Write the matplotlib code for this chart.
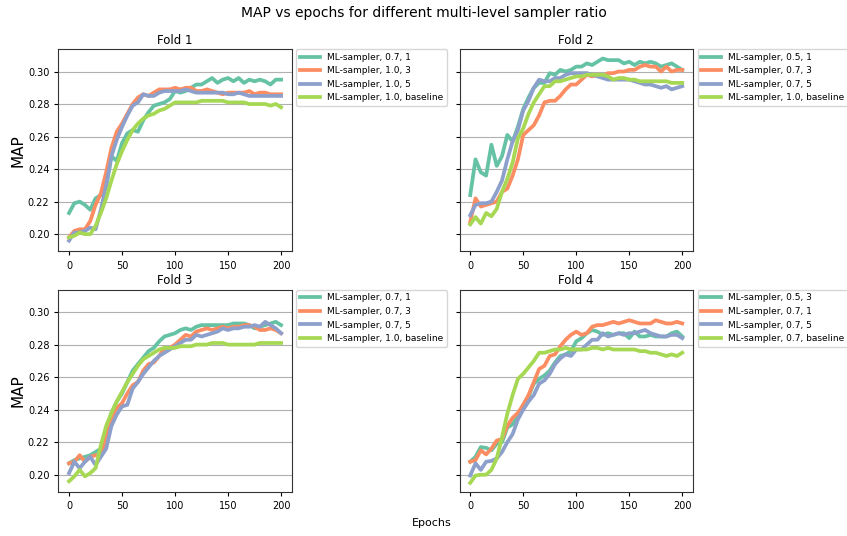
import numpy as np
import matplotlib
matplotlib.use("Agg")
import matplotlib.pyplot as plt

epochs = np.arange(0, 201, 5)

fold1_labels = ["ML-sampler, 0.7, 1", "ML-sampler, 1.0, 3", "ML-sampler, 1.0, 5", "ML-sampler, 1.0, baseline"]
fold1_a = [0.213, 0.219, 0.220, 0.218, 0.215, 0.222, 0.224, 0.229, 0.248, 0.245, 0.256, 0.262, 0.264, 0.263, 0.270,
           0.275, 0.279, 0.280, 0.281, 0.283, 0.288, 0.287, 0.288, 0.290, 0.292, 0.292, 0.294, 0.296, 0.293, 0.295,
           0.296, 0.294, 0.296, 0.293, 0.295, 0.294, 0.295, 0.294, 0.292, 0.295, 0.295]
fold1_b = [0.198, 0.202, 0.203, 0.203, 0.208, 0.218, 0.225, 0.238, 0.253, 0.263, 0.268, 0.274, 0.280, 0.284, 0.286,
           0.285, 0.287, 0.289, 0.289, 0.289, 0.290, 0.289, 0.290, 0.290, 0.288, 0.288, 0.289, 0.288, 0.287, 0.286,
           0.287, 0.287, 0.287, 0.287, 0.288, 0.286, 0.287, 0.287, 0.286, 0.286, 0.286]
fold1_c = [0.196, 0.201, 0.201, 0.202, 0.204, 0.203, 0.215, 0.230, 0.248, 0.258, 0.266, 0.273, 0.279, 0.281, 0.286,
           0.285, 0.285, 0.287, 0.288, 0.288, 0.288, 0.288, 0.289, 0.288, 0.287, 0.287, 0.287, 0.287, 0.287, 0.287,
           0.286, 0.286, 0.287, 0.286, 0.285, 0.285, 0.285, 0.285, 0.285, 0.285, 0.285]
fold1_d = [0.198, 0.199, 0.201, 0.200, 0.200, 0.205, 0.213, 0.222, 0.233, 0.243, 0.251, 0.258, 0.264, 0.268, 0.271,
           0.273, 0.274, 0.276, 0.277, 0.279, 0.281, 0.281, 0.281, 0.281, 0.281, 0.282, 0.282, 0.282, 0.282, 0.282,
           0.281, 0.281, 0.281, 0.281, 0.280, 0.280, 0.280, 0.280, 0.279, 0.280, 0.278]

fold2_labels = ["ML-sampler, 0.5, 1", "ML-sampler, 0.7, 3", "ML-sampler, 0.7, 5", "ML-sampler, 1.0, baseline"]
fold2_a = [0.224, 0.246, 0.238, 0.236, 0.255, 0.242, 0.248, 0.261, 0.257, 0.266, 0.277, 0.284, 0.290, 0.293, 0.293,
           0.299, 0.298, 0.301, 0.300, 0.301, 0.303, 0.303, 0.305, 0.304, 0.306, 0.308, 0.307, 0.307, 0.307, 0.305,
           0.306, 0.304, 0.306, 0.305, 0.306, 0.305, 0.303, 0.304, 0.305, 0.303, 0.301]
fold2_b = [0.2075, 0.222, 0.217, 0.218, 0.219, 0.220, 0.226, 0.228, 0.236, 0.246, 0.261, 0.264, 0.267, 0.273, 0.281,
           0.282, 0.282, 0.285, 0.289, 0.292, 0.292, 0.295, 0.298, 0.297, 0.298, 0.297, 0.299, 0.299, 0.300, 0.300,
           0.301, 0.301, 0.303, 0.304, 0.303, 0.303, 0.300, 0.303, 0.300, 0.301, 0.301]
fold2_c = [0.2116, 0.218, 0.219, 0.219, 0.220, 0.226, 0.233, 0.246, 0.257, 0.264, 0.276, 0.282, 0.290, 0.295, 0.294,
           0.294, 0.296, 0.296, 0.298, 0.299, 0.299, 0.299, 0.299, 0.298, 0.297, 0.296, 0.295, 0.295, 0.295, 0.295,
           0.295, 0.294, 0.293, 0.292, 0.292, 0.291, 0.290, 0.291, 0.289, 0.290, 0.291]
fold2_d = [0.206, 0.2105, 0.2065, 0.213, 0.211, 0.2155, 0.226, 0.234, 0.244, 0.259, 0.265, 0.274, 0.281, 0.286, 0.291,
           0.291, 0.294, 0.294, 0.295, 0.296, 0.297, 0.297, 0.298, 0.298, 0.298, 0.298, 0.297, 0.295, 0.296, 0.296,
           0.295, 0.295, 0.294, 0.294, 0.294, 0.294, 0.294, 0.294, 0.293, 0.293, 0.293]

fold3_labels = ["ML-sampler, 0.7, 1", "ML-sampler, 0.7, 3", "ML-sampler, 0.7, 5", "ML-sampler, 1.0, baseline"]
fold3_a = [0.207, 0.209, 0.210, 0.211, 0.212, 0.214, 0.216, 0.228, 0.238, 0.245, 0.250, 0.257, 0.264, 0.268, 0.272,
           0.276, 0.278, 0.282, 0.285, 0.286, 0.287, 0.289, 0.290, 0.289, 0.291, 0.292, 0.292, 0.292, 0.292, 0.292,
           0.292, 0.293, 0.293, 0.293, 0.292, 0.290, 0.291, 0.292, 0.293, 0.294, 0.292]
fold3_b = [0.207, 0.208, 0.212, 0.208, 0.211, 0.212, 0.212, 0.222, 0.234, 0.241, 0.244, 0.250, 0.255, 0.257, 0.264,
           0.268, 0.269, 0.273, 0.278, 0.278, 0.280, 0.283, 0.286, 0.285, 0.288, 0.289, 0.290, 0.289, 0.290, 0.291,
           0.290, 0.291, 0.291, 0.292, 0.292, 0.291, 0.289, 0.289, 0.290, 0.289, 0.287]
fold3_c = [0.201, 0.208, 0.204, 0.208, 0.211, 0.206, 0.211, 0.216, 0.230, 0.237, 0.242, 0.243, 0.253, 0.257, 0.262,
           0.266, 0.270, 0.273, 0.275, 0.277, 0.279, 0.281, 0.283, 0.283, 0.286, 0.285, 0.286, 0.287, 0.288, 0.290,
           0.289, 0.290, 0.290, 0.291, 0.291, 0.292, 0.291, 0.294, 0.292, 0.290, 0.287]
fold3_d = [0.196, 0.199, 0.203, 0.199, 0.201, 0.204, 0.218, 0.230, 0.238, 0.245, 0.251, 0.257, 0.262, 0.267, 0.271,
           0.273, 0.275, 0.277, 0.278, 0.278, 0.278, 0.279, 0.279, 0.279, 0.280, 0.280, 0.280, 0.281, 0.281, 0.281,
           0.280, 0.280, 0.280, 0.280, 0.280, 0.280, 0.281, 0.281, 0.281, 0.281, 0.281]

fold4_labels = ["ML-sampler, 0.5, 3", "ML-sampler, 0.7, 1", "ML-sampler, 0.7, 5", "ML-sampler, 0.7, baseline"]
fold4_a = [0.208, 0.211, 0.217, 0.2165, 0.215, 0.219, 0.220, 0.229, 0.231, 0.236, 0.243, 0.248, 0.256, 0.259, 0.261,
           0.264, 0.269, 0.273, 0.274, 0.276, 0.282, 0.284, 0.287, 0.289, 0.288, 0.286, 0.287, 0.286, 0.287, 0.287,
           0.284, 0.288, 0.285, 0.285, 0.286, 0.285, 0.285, 0.285, 0.287, 0.288, 0.285]
fold4_b = [0.208, 0.209, 0.215, 0.2125, 0.216, 0.221, 0.222, 0.230, 0.235, 0.238, 0.243, 0.249, 0.257, 0.265, 0.267,
           0.273, 0.274, 0.279, 0.283, 0.286, 0.288, 0.286, 0.287, 0.291, 0.292, 0.292, 0.293, 0.294, 0.293, 0.294,
           0.295, 0.294, 0.293, 0.293, 0.293, 0.295, 0.294, 0.293, 0.293, 0.294, 0.293]
fold4_c = [0.1995, 0.207, 0.203, 0.208, 0.2085, 0.210, 0.214, 0.220, 0.225, 0.234, 0.240, 0.245, 0.249, 0.256, 0.258,
           0.262, 0.268, 0.2715, 0.274, 0.273, 0.277, 0.277, 0.280, 0.283, 0.283, 0.287, 0.285, 0.286, 0.287, 0.286,
           0.287, 0.287, 0.288, 0.289, 0.287, 0.286, 0.285, 0.285, 0.286, 0.286, 0.284]
fold4_d = [0.195, 0.1995, 0.200, 0.200, 0.203, 0.210, 0.223, 0.2375, 0.249, 0.259, 0.262, 0.266, 0.270, 0.275, 0.275,
           0.276, 0.277, 0.277, 0.278, 0.277, 0.277, 0.277, 0.277, 0.278, 0.278, 0.277, 0.278, 0.277, 0.277, 0.277,
           0.277, 0.277, 0.276, 0.276, 0.275, 0.275, 0.274, 0.273, 0.274, 0.273, 0.275]

folds = [
    ("Fold 1", fold1_labels, [fold1_a, fold1_b, fold1_c, fold1_d]),
    ("Fold 2", fold2_labels, [fold2_a, fold2_b, fold2_c, fold2_d]),
    ("Fold 3", fold3_labels, [fold3_a, fold3_b, fold3_c, fold3_d]),
    ("Fold 4", fold4_labels, [fold4_a, fold4_b, fold4_c, fold4_d]),
]

colors = ["#66c2a5", "#fc8d62", "#8da0cb", "#a6d854"]

fig, axes = plt.subplots(2, 2, figsize=(8.47, 5.36), dpi=100, sharey=True)
fig.subplots_adjust(left=0.069, right=0.818, top=0.908, bottom=0.082, wspace=0.72, hspace=0.19)

for ax, (title, labels, series) in zip(axes.flat, folds):
    for vals, lab, col in zip(series, labels, colors):
        ax.plot(epochs, vals, color=col, lw=2.7, label=lab)
    ax.set_title(title, fontsize=8.5, pad=4)
    ax.yaxis.grid(True, color="#b0b0b0", lw=0.8)
    ax.set_axisbelow(True)
    ax.tick_params(labelsize=7, length=3)
    for sp in ax.spines.values():
        sp.set_color("#333333")
    ax.legend(loc="upper left", bbox_to_anchor=(1.02, 1.0), fontsize=6.5,
              handlelength=2.2, borderaxespad=0.0)

axes[0, 0].set_ylabel("MAP", fontsize=11, labelpad=2)
axes[1, 0].set_ylabel("MAP", fontsize=11, labelpad=2)
axes[0, 0].set_yticks([0.20, 0.22, 0.24, 0.26, 0.28, 0.30])
axes[0, 0].yaxis.set_major_formatter(matplotlib.ticker.FormatStrFormatter("%.2f"))

fig.suptitle("MAP vs epochs for different multi-level sampler ratio", fontsize=10, y=0.988)
fig.text(0.51, 0.015, "Epochs", ha="center", va="bottom", fontsize=8)

fig.savefig("out.png", dpi=100)
